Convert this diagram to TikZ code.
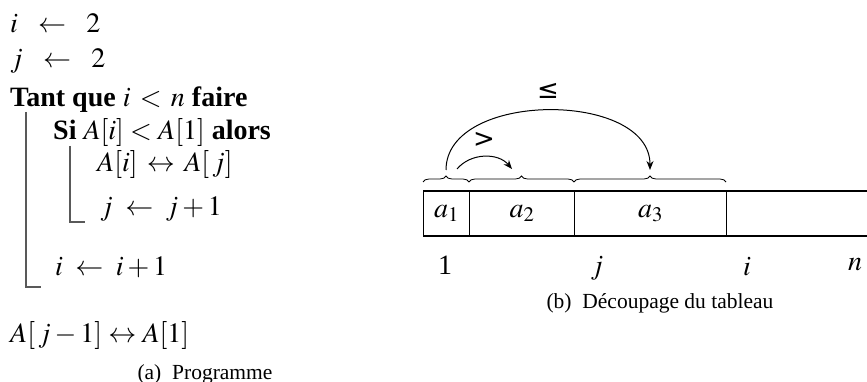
\documentclass[tikz,border=0pt]{standalone}
\usepackage{mathptmx}
\usepackage{fontspec}
\setmainfont{Liberation Serif}
\newfontfamily\symfont{DejaVu Sans}
\usetikzlibrary{arrows.meta,decorations.pathreplacing}

\tikzset{
  ligne/.style={anchor=base west, inner sep=0pt},
  indice/.style={anchor=base, inner sep=0pt},
  legende/.style={anchor=base, inner sep=0pt, font=\fontsize{21.5}{25}\selectfont},
  barre/.style={draw=black!65, line width=1.3pt},
  case/.style={draw, line width=1.3pt, minimum height=45pt, inner sep=0pt, anchor=west},
  accolade/.style={decorate, decoration={brace, amplitude=6pt}, line width=0.8pt},
  fleche/.style={-{Stealth[length=9pt,width=7pt]}, line width=1pt},
  compar/.style={inner sep=0pt, font=\symfont\fontsize{26}{30}\selectfont},
}

\begin{document}
\begin{tikzpicture}[x=1pt, y=-1pt, font=\fontsize{28}{32}\selectfont]
\useasboundingbox (0,0) rectangle (867,382);

% programme
\node[ligne] (l1) at (10,33) {$i \enspace\leftarrow\enspace 2$};
\node[ligne] (l2) at (10,68) {$j \enspace\leftarrow\enspace 2$};
\node[ligne] (l3) at (10,107) {\textbf{Tant que} $i \mathrel{\,<\,} n$ \textbf{faire}};
\node[ligne] (l4) at (53,140) {\textbf{Si} $A[i] < A[1]$ \textbf{alors}};
\node[ligne] (l5) at (97,172) {$A[i] \mathrel{\,\leftrightarrow\,} A[\,j]$};
\node[ligne] (l6) at (100,215) {$j \;\leftarrow\; j+1$};
\node[ligne] (l7) at (55,275) {$i \;\leftarrow\; i+1$};
\node[ligne] (l8) at (10,342) {$A[\,j-1] \leftrightarrow A[1]$};
\draw[barre] (26,112) -- (26,287) -- (41,287);
\draw[barre] (70,146) -- (70,222) -- (85,222);
\node[legende] (capa) at (205,379) {(a)\enskip Programme};

% tableau
\node[case, minimum width=46pt] (c1) at (423,213.5) {$a_1$};
\node[case, minimum width=105pt] (c2) at (469,213.5) {$a_2$};
\node[case, minimum width=152pt] (c3) at (574,213.5) {$a_3$};
\node[case, minimum width=200pt] (c4) at (726,213.5) {};
\draw[accolade] (423,182) -- (469,182);
\draw[accolade] (469,182) -- (574,182);
\draw[accolade] (574,182) -- (726,182);
\coordinate (p1) at (446,170);
\coordinate (p2) at (457,169);
\coordinate (p3) at (512,169);
\coordinate (p4) at (650,170);
\draw[fleche] (p1) to[out=90, in=90, looseness=1] (p4);
\draw[fleche] (p2) to[out=50, in=130] (p3);
\node[compar] (inf) at (548,91) {≤};
\node[compar] (sup) at (484,140) {>};
\node[indice] (k1) at (445,274) {1};
\node[indice] (kj) at (597,274) {$j$};
\node[indice] (ki) at (747,275) {$i$};
\node[indice] (kn) at (855,270) {$n$};
\node[legende] (capb) at (660,308) {(b)\enskip Découpage du tableau};
\end{tikzpicture}
\end{document}
